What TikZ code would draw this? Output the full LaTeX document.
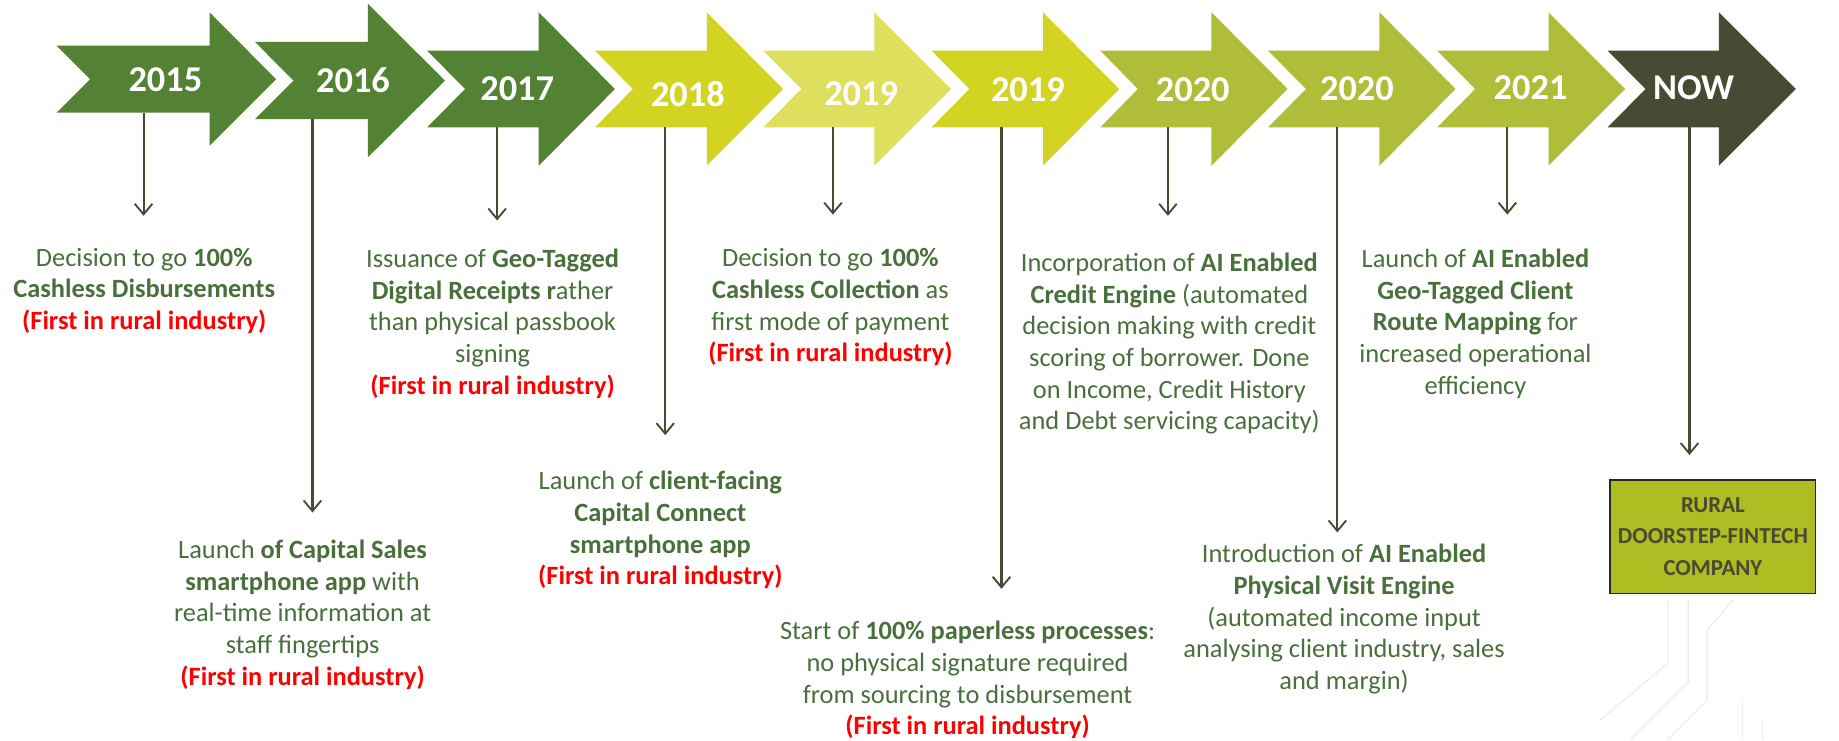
\documentclass[tikz,border=0pt]{standalone}
\usepackage{fontspec}
\setmainfont{Carlito}
\usetikzlibrary{arrows.meta}
\definecolor{dgreen}{RGB}{84,130,53}
\definecolor{ygreen}{RGB}{211,212,34}
\definecolor{lygreen}{RGB}{222,223,92}
\definecolor{ogreen}{RGB}{175,189,56}
\definecolor{dolive}{RGB}{73,74,51}
\definecolor{txtgreen}{RGB}{72,112,58}
\definecolor{boxfill}{RGB}{173,189,34}
\definecolor{faint}{RGB}{236,236,236}
\newcommand\yarrow[9]{% L notch bodyR tip cy bodyTop bodyBot headTop headBot
  (#1,#6) -- (#3,#6) -- (#3,#8) -- (#4,#5) -- (#3,#9) -- (#3,#7) -- (#1,#7) -- (#2,#5) -- cycle}
\newcommand\firstred{\textcolor{red}{\textbf{(First in rural industry)}}}
\begin{document}
\begin{tikzpicture}[x=1pt,y=-1pt,
  yearlbl/.style={text=white,font=\fontsize{31}{34}\selectfont\bfseries,inner sep=0pt},
  desc/.style={text=txtgreen,align=center,font=\fontsize{22.5}{27}\selectfont,inner sep=0pt},
  conn/.style={draw=dolive,line width=1.8pt,-{Straight Barb[length=9pt,width=15pt,line width=1.6pt]}},
  finalbox/.style={draw=black!85,line width=1.5pt,fill=boxfill,text=dolive,align=center,
    font=\fontsize{19.5}{27}\selectfont\bfseries,minimum width=175pt,minimum height=97pt,inner sep=0pt},
  faintline/.style={draw=faint,line width=1pt}]
\fill[white] (0,0) rectangle (1568,631);
\useasboundingbox (0,0) rectangle (1568,631);
% faint background lines
\draw[faintline] (1364.3,614) -- (1422.3,565.3) -- (1422.3,511.6);
\draw[faintline] (1389.9,631) -- (1439.4,581.5) -- (1439.4,511.6);
\draw[faintline] (1421.5,631) -- (1455.6,596.9) -- (1455.6,537.2) -- (1477.7,511.6);
\draw[faintline] (1485.4,597) -- (1485.4,631);
\draw[faintline] (1502.4,614) -- (1502.4,631);
% arrows
\fill[dgreen] \yarrow{48.2}{76.9}{178.7}{235.4}{67.6}{39.0}{96.1}{10.5}{124.2};
\fill[dgreen] \yarrow{217.5}{250.2}{313.6}{379.4}{68.8}{35.8}{101.5}{3.1}{134.2};
\fill[dgreen] \yarrow{364.2}{396.5}{459.3}{524.3}{75.9}{43.2}{108.6}{10.5}{141.3};
\fill[ygreen] \yarrow{507.3}{539.6}{602.6}{667.7}{75.9}{43.2}{108.6}{10.5}{141.3};
\fill[lygreen] \yarrow{650.9}{683.2}{745.6}{811.0}{75.9}{43.2}{108.6}{10.5}{141.3};
\fill[ygreen] \yarrow{794.2}{826.5}{889.3}{954.3}{75.9}{43.2}{108.6}{10.5}{141.3};
\fill[ogreen] \yarrow{938.2}{970.2}{1032.9}{1097.9}{75.9}{43.2}{108.6}{10.5}{141.3};
\fill[ogreen] \yarrow{1081.2}{1113.6}{1176.1}{1241.1}{75.9}{43.2}{108.6}{10.5}{141.3};
\fill[ogreen] \yarrow{1225.4}{1257.8}{1320.3}{1385.6}{75.9}{43.2}{108.6}{10.5}{141.3};
\fill[dolive] \yarrow{1370.7}{1403}{1465.6}{1531.2}{75.9}{43.2}{108.6}{10.5}{141.3};
% year labels
\node[yearlbl] (y1) at (141,67.6) {2015};
\node[yearlbl] (y2) at (301,68.8) {2016};
\node[yearlbl] (y3) at (441,75.3) {2017};
\node[yearlbl] (y4) at (586.5,80.1) {2018};
\node[yearlbl] (y5) at (734.2,79.6) {2019};
\node[yearlbl] (y6) at (876.4,76.2) {2019};
\node[yearlbl] (y7) at (1017,76.7) {2020};
\node[yearlbl] (y8) at (1157,75.9) {2020};
\node[yearlbl] (y9) at (1305,74.5) {2021};
\node[yearlbl] (y10) at (1444,74.5) {NOW};
% connector coordinates
\coordinate (s1) at (122.4,96.1);   \coordinate (e1) at (122.4,184);
\coordinate (s2) at (266.4,101.5);  \coordinate (e2) at (266.4,437);
\coordinate (s3) at (423.9,108.6);  \coordinate (e3) at (423.9,188);
\coordinate (s4) at (567.2,108.6);  \coordinate (e4) at (567.2,371);
\coordinate (s5) at (710.2,108.6);  \coordinate (e5) at (710.2,183);
\coordinate (s6) at (853.9,108.6);  \coordinate (e6) at (853.9,502);
\coordinate (s7) at (995.8,108.6);  \coordinate (e7) at (995.8,184);
\coordinate (s8) at (1140.3,108.6); \coordinate (e8) at (1140.3,454);
\coordinate (s9) at (1285.2,108.6); \coordinate (e9) at (1285.2,183);
\coordinate (s10) at (1440.5,108.6); \coordinate (e10) at (1440.5,388);
\foreach \i in {1,...,10} {\draw[conn] (s\i) -- (e\i);}
% descriptions
\node[desc] (d1) at (123,248) {Decision to go \textbf{100\%}\\\textbf{Cashless Disbursements}\\\firstred};
\node[desc] (d2) at (258,524) {Launch \textbf{of Capital Sales}\\\textbf{smartphone app} with\\real-time information at\\staff fingertips\\\firstred};
\node[desc] (d3) at (420,276) {Issuance of \textbf{Geo-Tagged}\\\textbf{Digital Receipts r}ather\\than physical passbook\\signing\\\firstred};
\node[desc] (d4) at (563,452) {Launch of \textbf{client-facing}\\\textbf{Capital Connect}\\\textbf{smartphone app}\\\firstred};
\node[desc] (d5) at (708,262) {Decision to go \textbf{100\%}\\\textbf{Cashless Collection} as\\first mode of payment\\\firstred};
\node[desc] (d6) at (825,580) {Start of \textbf{100\% paperless processes}:\\no physical signature required\\from sourcing to disbursement\\\firstred};
\node[desc] (d7) at (997,293) {Incorporation of \textbf{AI Enabled}\\\textbf{Credit Engine} (automated\\decision making with credit\\scoring of borrower. Done\\on Income, Credit History\\and Debt servicing capacity)};
\node[desc] (d8) at (1146,528) {Introduction of \textbf{AI Enabled}\\\textbf{Physical Visit Engine}\\(automated income input\\analysing client industry, sales\\and margin)};
\node[desc] (d9) at (1258,276) {Launch of \textbf{AI Enabled}\\\textbf{Geo-Tagged Client}\\\textbf{Route Mapping} for\\increased operational\\efficiency};
\node[finalbox] (fb) at (1460.5,457.5) {RURAL\\DOORSTEP-FINTECH\\COMPANY};
\end{tikzpicture}
\end{document}
